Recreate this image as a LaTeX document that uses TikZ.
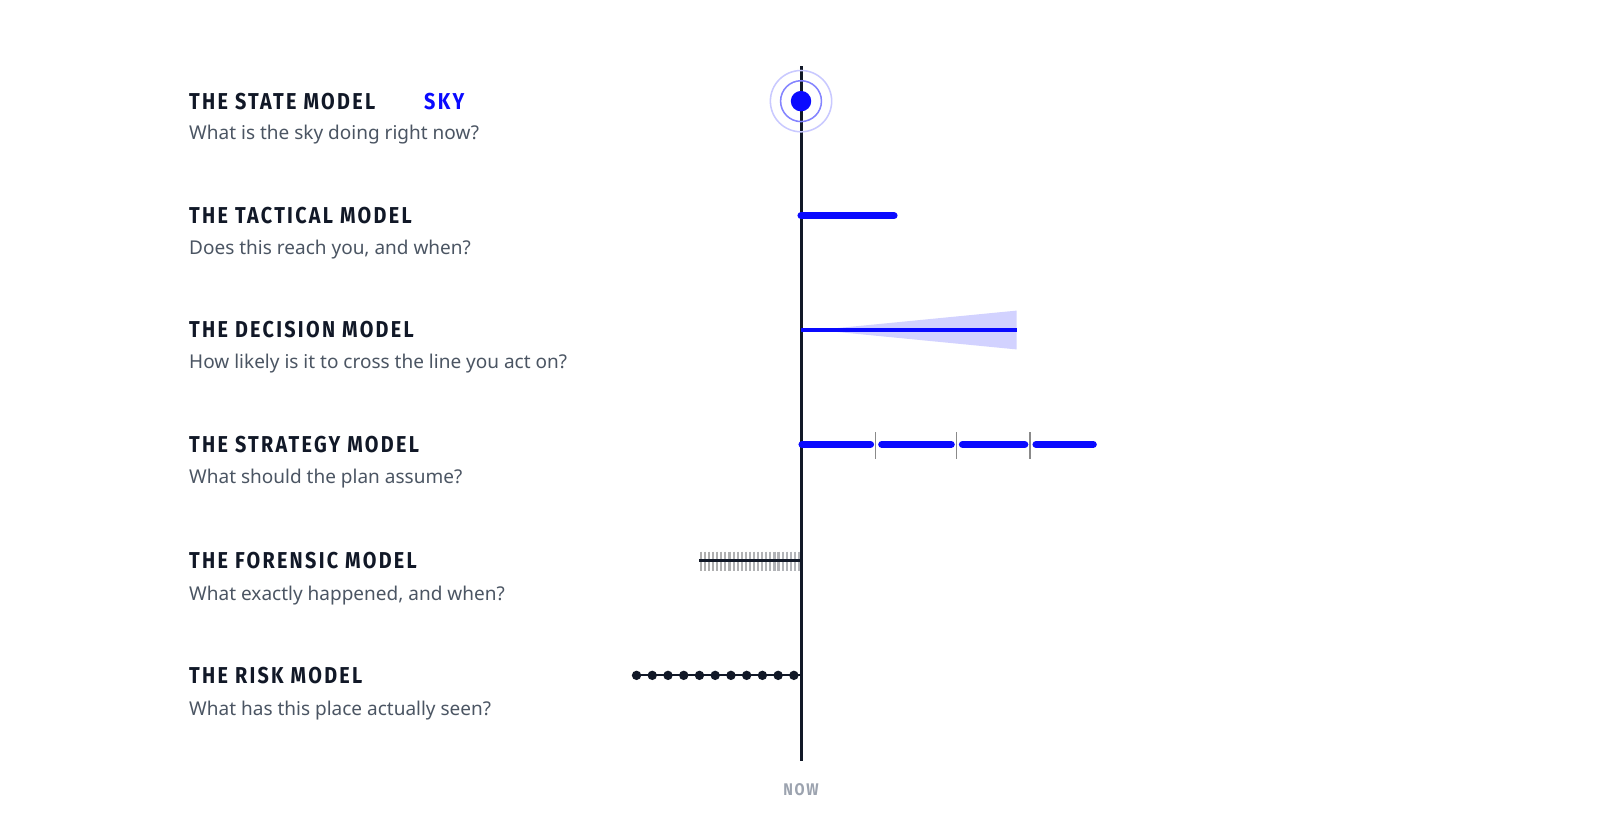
\documentclass[tikz,border=0pt]{standalone}
\usepackage{fontspec}
\setmainfont{Noto Sans}
\newfontfamily\titlefont[LetterSpace=10,FakeStretch=0.86]{Fira Sans}
\definecolor{ink}{HTML}{111827}
\definecolor{sub}{HTML}{4B5563}
\definecolor{vivid}{RGB}{10,10,255}
\definecolor{cone}{HTML}{D2D2FF}
\definecolor{nowgray}{HTML}{9CA3AF}
\definecolor{tickgray}{HTML}{8A8A8A}
\begin{document}
\begin{tikzpicture}[x=1pt,y=-1pt,
  title/.style={anchor=west,inner sep=0pt,text=ink,font=\titlefont\bfseries\fontsize{22.5}{26}\selectfont},
  subtitle/.style={anchor=west,inner sep=0pt,text=sub,font=\fontsize{18.6}{22}\selectfont},
  bar/.style={line width=7pt,line cap=round,draw=vivid},
  sep/.style={line width=1.5pt,draw=tickgray}]
\useasboundingbox[fill=white] (0,0) rectangle (1566,811.5);
% axis
\coordinate (axtop) at (784,65);
\coordinate (axbot) at (784,745);
\draw[line width=2.9pt,draw=ink] (axtop) -- (axbot);
\node[inner sep=0pt,text=nowgray,font=\titlefont\bfseries\fontsize{16.5}{19}\selectfont] (now) at (784,773) {NOW};

% rows text
\node[title] (t1) at (185,99) {THE STATE MODEL};
\node[inner sep=0pt,anchor=west,text=vivid,font=\titlefont\bfseries\fontsize{22.5}{26}\selectfont] (sky) at (415,99) {SKY};
\node[subtitle] (s1) at (185,132) {What is the sky doing right now?};
\node[title] (t2) at (185,211) {THE TACTICAL MODEL};
\node[subtitle] (s2) at (185,244) {Does this reach you, and when?};
\node[title] (t3) at (185,323) {THE DECISION MODEL};
\node[subtitle] (s3) at (185,356) {How likely is it to cross the line you act on?};
\node[title] (t4) at (185,435) {THE STRATEGY MODEL};
\node[subtitle] (s4) at (185,468) {What should the plan assume?};
\node[title] (t5) at (185,549) {THE FORENSIC MODEL};
\node[subtitle] (s5) at (185,583) {What exactly happened, and when?};
\node[title] (t6) at (185,661) {THE RISK MODEL};
\node[subtitle] (s6) at (185,695) {What has this place actually seen?};

% state
\coordinate (st) at (784,99);
\draw[draw=vivid!22,line width=1.5pt] (st) circle[radius=30];
\draw[draw=vivid!50,line width=1.5pt] (st) circle[radius=20];
\fill[vivid] (st) circle[radius=10];

% tactical
\coordinate (ta) at (784,211);
\coordinate (tb) at (875,211);
\draw[bar] (ta) -- (tb);

% decision
\coordinate (da) at (784,323);
\coordinate (db) at (995,323);
\fill[cone] (800,323) -- (995,304) -- (995,342) -- cycle;
\draw[line width=3pt,draw=vivid] (da) -- (db);

% strategy
\draw[bar] (785,435) -- (852,435);
\draw[bar] (863,435) -- (931,435);
\draw[bar] (942,435) -- (1003,435);
\draw[bar] (1014,435) -- (1070,435);
\draw[sep] (857,423) -- (857,449);
\draw[sep] (936,423) -- (936,449);
\draw[sep] (1008,423) -- (1008,449);

% forensic
\foreach \i in {0,...,24}{
  \pgfmathsetmacro\p{100*\i/24}
  \draw[line width=2.1pt,draw=ink!\p!black!32] ({686+4*\i},540) -- ({686+4*\i},559);
}
\coordinate (fa) at (684,549);
\coordinate (fb) at (784,549);
\draw[line width=2.8pt,draw=ink] (fa) -- (fb);

% risk
\coordinate (ra) at (623,661);
\coordinate (rb) at (784,661);
\draw[line width=2pt,draw=ink] (ra) -- (rb);
\foreach \i in {0,...,10}{
  \fill[ink] ({623+15.4*\i},661) circle[radius=4.6];
}
\end{tikzpicture}
\end{document}
